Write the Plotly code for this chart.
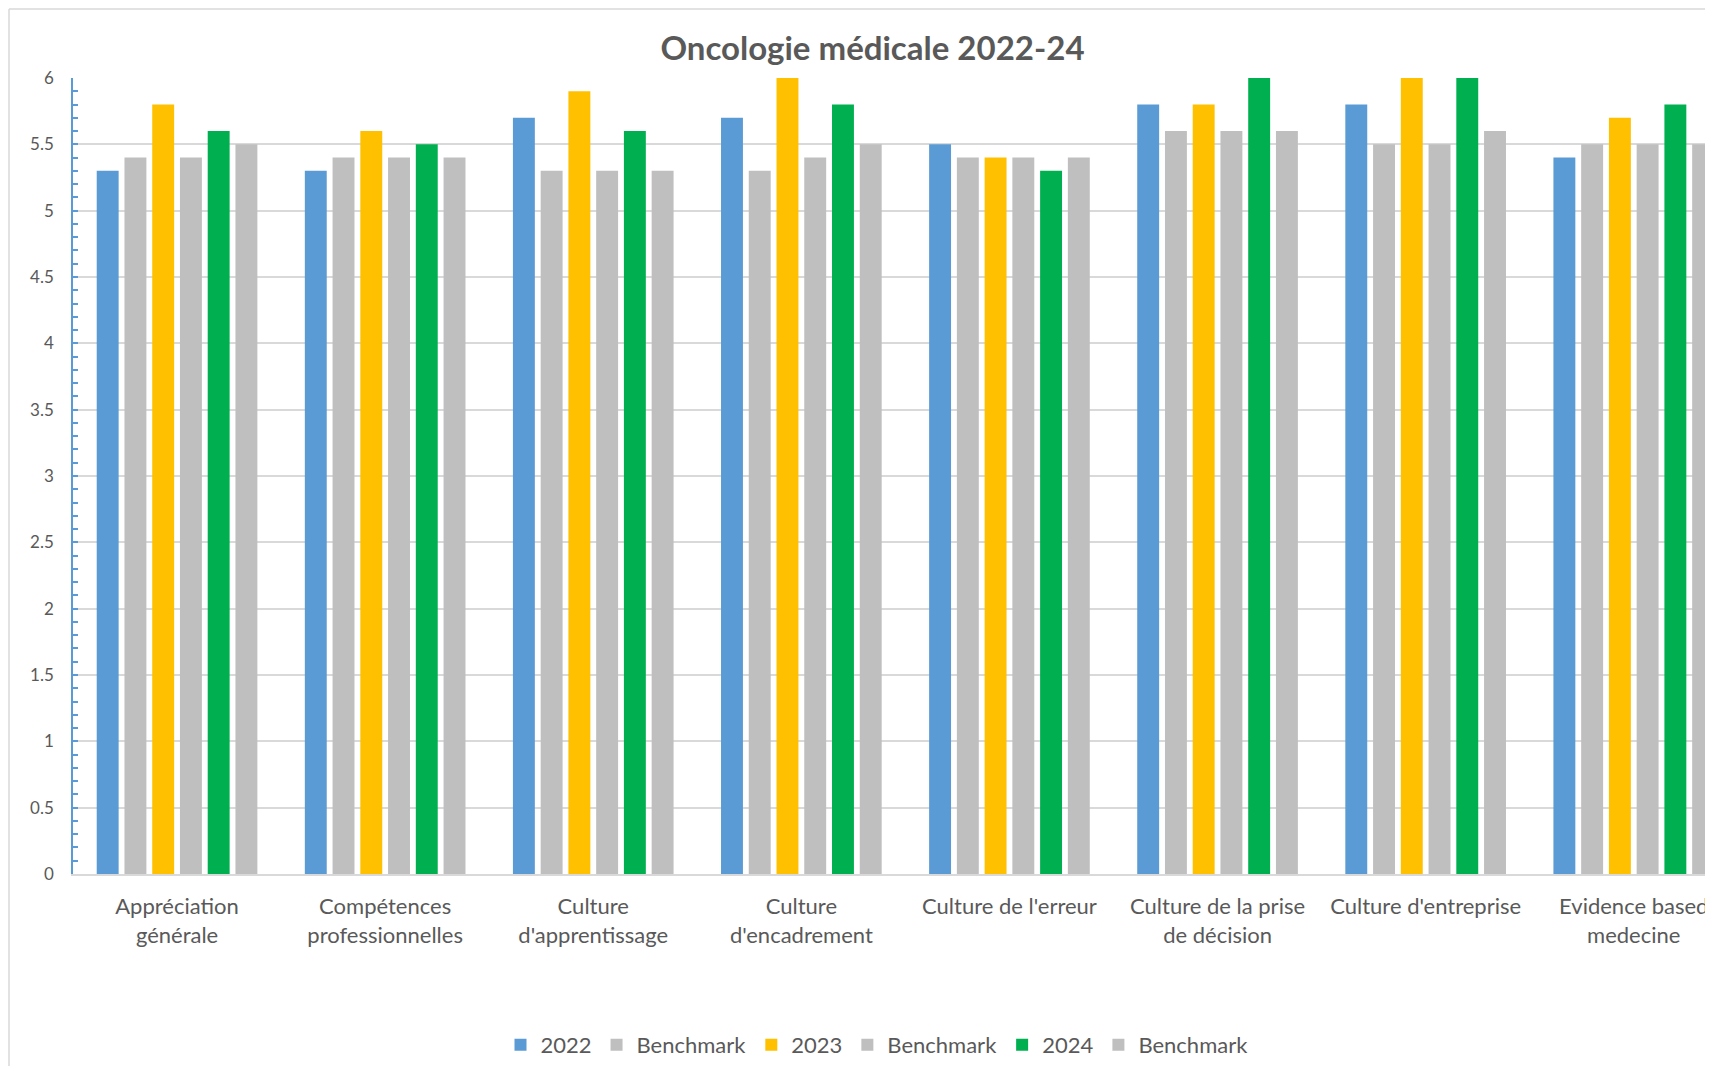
import plotly.graph_objects as go

categories = [
    "Appréciation<br>générale",
    "Compétences<br>professionnelles",
    "Culture<br>d'apprentissage",
    "Culture<br>d'encadrement",
    "Culture de l'erreur",
    "Culture de la prise<br>de décision",
    "Culture d'entreprise",
    "Evidence based<br>medecine",
]

series_names = ["2022", "Benchmark", "2023", "Benchmark", "2024", "Benchmark"]
v2022 = [5.3, 5.3, 5.7, 5.7, 5.5, 5.8, 5.8, 5.4]
bench_2022 = [5.4, 5.4, 5.3, 5.3, 5.4, 5.6, 5.5, 5.5]
v2023 = [5.8, 5.6, 5.9, 6.0, 5.4, 5.8, 6.0, 5.7]
bench_2023 = [5.4, 5.4, 5.3, 5.4, 5.4, 5.6, 5.5, 5.5]
v2024 = [5.6, 5.5, 5.6, 5.8, 5.3, 6.0, 6.0, 5.8]
bench_2024 = [5.5, 5.4, 5.3, 5.5, 5.4, 5.6, 5.6, 5.5]

series_values = [v2022, bench_2022, v2023, bench_2023, v2024, bench_2024]
colors = ["#5B9BD5", "#BFBFBF", "#FFC000", "#BFBFBF", "#00B050", "#BFBFBF"]

FONT = "Lato"
TXT = "#595959"

W, H = 1705, 1058
ML, MT, MB, MR = 65, 70, 192, 0
PW = W - ML - MR
PH = H - MT - MB
CAT_PX = 208.1

fig = go.Figure()
for name, vals, col in zip(series_names, series_values, colors):
    fig.add_trace(go.Bar(
        x=list(range(len(categories))), y=vals, name=name,
        marker=dict(color=col, line=dict(width=0)),
    ))

def px_to_paper_x(px):
    return (px - ML) / PW

def px_to_paper_y(py):
    return (H - MB - py) / PH

fig.update_layout(
    width=W, height=H,
    margin=dict(l=ML, r=MR, t=MT, b=MB, pad=0),
    paper_bgcolor="white", plot_bgcolor="white",
    barmode="group", bargap=0.2, bargroupgap=0.21,
    font=dict(family=FONT, color=TXT, size=22),
    title=dict(
        text="<b>Oncologie médicale 2022-24</b>",
        font=dict(family=FONT, size=33, color=TXT),
        x=864.5 / W, xanchor="center", xref="container",
        y=1 - 40 / H, yanchor="middle", yref="container",
    ),
    legend=dict(
        orientation="h", x=px_to_paper_x(869), xanchor="center",
        y=px_to_paper_y(1037), yanchor="middle",
        font=dict(family=FONT, size=22, color=TXT),
        traceorder="normal", itemwidth=30,
    ),
    xaxis=dict(
        range=[-0.5, -0.5 + PW / CAT_PX],
        tickmode="array", tickvals=list(range(len(categories))), ticktext=categories,
        showline=True, linecolor="#D9D9D9", linewidth=1.5,
        showgrid=False, zeroline=False, ticks="",
        tickfont=dict(family=FONT, size=22, color=TXT),
        ticklabelstandoff=12,
    ),
    yaxis=dict(
        range=[0, 6], dtick=0.5, tick0=0,
        showline=True, linecolor="#5B9BD5", linewidth=1.5,
        ticks="inside", ticklen=5, tickcolor="#5B9BD5", tickwidth=1.5,
        minor=dict(dtick=0.1, ticks="inside", ticklen=5, tickcolor="#5B9BD5", tickwidth=1.5, showgrid=False),
        showgrid=True, gridcolor="#D9D9D9", gridwidth=1.5, zeroline=False,
        tickfont=dict(family=FONT, size=17, color=TXT),
        ticklabelstandoff=14,
    ),
    shapes=[
        dict(type="line", xref="paper", yref="paper",
             x0=px_to_paper_x(1), x1=px_to_paper_x(W),
             y0=px_to_paper_y(1), y1=px_to_paper_y(1),
             line=dict(color="#D9D9D9", width=1.5)),
        dict(type="line", xref="paper", yref="paper",
             x0=px_to_paper_x(1), x1=px_to_paper_x(1),
             y0=px_to_paper_y(1), y1=px_to_paper_y(H),
             line=dict(color="#D9D9D9", width=1.5)),
    ],
)

fig.write_html("out.html")
